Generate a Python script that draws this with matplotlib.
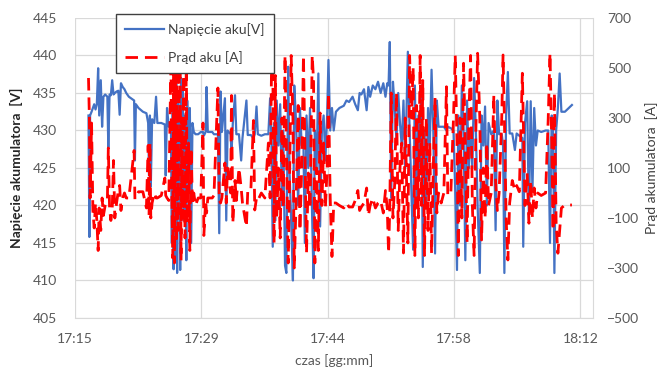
import matplotlib
matplotlib.use("Agg")
import matplotlib.pyplot as plt

# ---------------- data (minutes after 17:15) ----------------
time_min = [
    1.90, 2.00, 2.08, 2.25, 2.40, 2.55, 2.70, 2.85, 3.00, 3.12, 3.30, 3.45, 3.60, 3.80, 4.05, 4.16,
    4.30, 4.45, 4.60, 4.75, 4.90, 5.10, 5.30, 5.45, 5.60, 5.80, 6.00, 6.20, 6.50, 7.10, 7.19, 7.30,
    7.60, 8.10, 8.50, 8.70, 8.80, 8.90, 9.00, 9.15, 9.40, 9.60, 9.75, 10.20, 10.60, 10.70, 10.85, 11.05,
    11.30, 11.40, 11.50, 11.60, 11.70, 11.80, 11.90, 12.00, 12.10, 12.25, 12.35, 12.45, 12.55, 12.65,
    12.75, 12.90, 13.05, 13.15, 13.30, 13.45, 13.60, 13.75, 13.90, 14.10, 14.40,
    14.70, 14.95, 15.05, 15.25, 15.36, 15.50, 16.00, 16.20, 16.65, 16.80, 16.95, 17.10, 17.45, 17.60,
    17.75, 18.10, 18.20, 18.35, 18.60, 18.75, 19.05, 19.30, 19.45, 19.90, 20.05, 20.40, 20.70, 20.85,
    21.05, 21.20, 21.60, 22.00, 22.40, 22.60,
    22.75, 22.90, 23.05, 23.20, 23.35, 23.55, 23.75, 23.95, 24.10, 24.30, 24.45, 24.66, 24.80, 25.00,
    25.20, 25.35, 25.55, 25.80, 26.00, 26.20, 26.40, 26.56, 26.75, 26.95, 27.15, 27.40, 27.55, 27.70,
    27.90, 28.10, 28.30, 28.50, 28.70, 28.90, 29.10, 29.25, 29.45, 29.65, 29.85, 30.10,
    30.50, 31.00, 31.30, 31.60, 32.00, 32.30, 32.60, 32.80, 33.00, 33.30, 33.60, 33.80, 34.00, 34.30,
    34.60, 34.90, 35.20, 35.50, 35.75, 35.95,
    36.10, 36.24, 36.40, 36.60, 36.80, 37.00, 37.20, 37.40, 37.60, 37.80, 38.00, 38.30, 38.50, 38.70,
    38.90, 39.10, 39.30, 39.50, 39.70, 39.85, 40.00, 40.20, 40.40, 40.60, 40.80, 41.00, 41.20, 41.40,
    41.60, 41.80, 42.10, 42.40, 42.70, 42.85, 43.20,
    43.50, 43.70, 43.90, 44.05, 44.25, 44.45, 44.65, 44.85, 45.05, 45.25, 45.45, 45.65, 45.85, 46.05,
    46.25, 46.50, 46.70, 46.90, 47.10, 47.30, 47.50, 47.80, 48.10, 48.30, 48.50, 48.70, 49.00, 49.15,
    49.30, 49.50, 49.70, 49.90,
    50.20, 50.50, 50.70, 51.00, 51.35, 51.45, 51.65, 51.90, 52.10, 52.30, 52.50, 52.70, 52.90, 53.10,
    53.50, 54.00, 54.30, 54.50, 54.70, 54.85, 55.00, 55.20, 55.40, 55.60, 55.80, 56.20, 57.00,
]

voltage_v = [
    432.0, 415.8, 432.0, 432.5, 433.0, 433.5, 432.8, 433.5, 438.3, 432.0, 436.7, 430.5, 434.5, 434.8, 434.5, 427.7,
    434.8, 434.7, 436.7, 434.8, 435.0, 435.2, 435.3, 432.1, 436.3, 435.8, 435.5, 435.0, 434.5, 434.0, 426.0, 433.5,
    433.0, 432.5, 432.3, 431.0, 424.0, 432.0, 422.5, 431.5, 431.0, 434.5, 431.0, 431.0, 430.8, 424.0, 433.0, 430.5,
    430.5, 415.0, 433.0, 411.5, 436.0, 413.0, 437.5, 411.0, 435.0, 430.0, 411.4, 437.0, 420.0, 436.0,
    418.0, 432.0, 412.7, 434.0, 425.0, 433.0, 415.0, 431.0, 429.8, 429.5, 429.5,
    429.8, 429.8, 429.3, 429.8, 435.8, 429.8, 429.8, 429.5, 429.5, 416.3, 435.2, 429.8, 434.3, 418.0,
    430.0, 429.5, 427.0, 431.0, 434.7, 429.5, 429.5, 426.0, 429.0, 434.0, 429.4, 429.4, 429.0, 429.5,
    433.2, 429.5, 429.3, 429.5, 429.5, 434.3,
    429.0, 414.5, 431.0, 418.0, 434.0, 428.0, 433.5, 420.0, 430.0, 412.0, 411.0, 438.5, 425.0, 418.0,
    410.0, 436.0, 431.4, 420.0, 433.0, 428.0, 428.0, 415.0, 432.0, 425.0, 433.0, 418.0, 410.3, 430.0,
    425.0, 437.6, 417.2, 430.0, 432.0, 426.0, 432.0, 439.4, 430.0, 433.0, 430.0, 432.5,
    433.0, 433.3, 434.0, 433.8, 434.5, 433.5, 432.7, 435.0, 434.8, 435.5, 432.7, 435.8, 434.5, 436.0,
    435.5, 436.5, 435.0, 436.3, 434.5, 436.3,
    436.0, 441.8, 421.0, 436.5, 433.0, 428.7, 435.0, 431.0, 428.0, 434.0, 425.0, 440.5, 430.0, 422.0,
    414.1, 436.0, 420.0, 432.0, 425.0, 436.0, 411.8, 430.0, 420.0, 433.0, 428.0, 438.1, 430.0, 413.6,
    434.0, 430.5, 430.5, 430.5, 430.0, 430.5, 430.3,
    430.0, 422.0, 411.4, 432.0, 420.0, 436.0, 430.0, 412.7, 434.0, 425.0, 430.0, 425.0, 437.0, 430.0,
    420.0, 411.0, 432.0, 428.0, 433.2, 420.0, 431.0, 429.5, 430.0, 416.7, 434.0, 429.5, 429.5, 428.0,
    411.0, 432.0, 437.8, 429.6,
    429.6, 427.4, 429.6, 429.3, 429.0, 414.5, 431.0, 433.9, 418.0, 433.9, 422.0, 433.0, 428.0, 430.0,
    429.8, 430.0, 430.0, 415.0, 432.0, 430.0, 411.0, 430.0, 433.0, 437.6, 432.5, 432.5, 433.4,
]

current_a = [
    460, 300, -20, 280, -70, -140, -40, -110, -230, -60, -150, -20, -90, -50, -30, 180,
    -60, -110, -70, 130, -100, -40, 10, 30, -70, -20, 0, -20, -20, 170, -25, -20,
    5, 5, -60, 190, -90, 200, -100, -40, 0, -20, -20, -10, 60, -10, -20, -30,
    540, -20, -260, 550, -280, 520, -200, 550, -150, 480, 550, -270, 300, -100,
    550, -180, 540, -120, 200, -230, 180, -40, 0, -50, -20,
    -20, 280, -170, -30, -80, -20, -20, -10, 420, -30, -40, -20, 120, -40,
    100, 0, 390, -120, 50, -30, 100, 20, -40, -135, 6, 6, 290, -68,
    -20, -30, 0, -20, 200, -20,
    470, 540, -200, 470, -100, 100, -180, 300, -60, 550, 200, -280, 0, 550,
    300, -300, -50, 350, -150, 100, 550, 200, -240, 80, -60, 550, 450, -280,
    100, -230, 320, -50, 200, -60, 100, 400, -20, -254, -40, -40,
    -50, -60, -40, -56, -56, -30, 10, -70, -56, -40, 20, -90, -50, -20,
    -60, -40, -30, -80, 10, -60,
    -240, -60, 400, -100, 40, 400, -150, 100, 200, -240, 300, -200, 550, 300,
    500, -250, 350, -100, 550, -50, 450, -250, 300, -150, 200, -241, 100, 380,
    -80, 0, -40, 0, 425, -10, 0,
    300, 550, 200, -250, 300, -100, 519, 200, -200, 300, 550, -50, -250, 250,
    559, 300, -188, 100, -100, 200, -50, 0, 392, 50, -70, 0, 300, 552,
    300, -100, -268, -40,
    50, 10, 30, 5, 479, 300, -50, 79, -121, 50, -100, 20, -60, 0,
    -10, 0, 300, 559, 200, -150, 400, -121, -241, -150, -60, -48, -48,
]

# axis definitions (Excel day fractions for the time axis)
x_tick_days = [0.719, 0.729, 0.739, 0.749, 0.759]
x_tick_labels = ["17:15", "17:29", "17:44", "17:58", "18:12"]
x_range_days = [0.719, 0.760]
v_ticks = [405, 410, 415, 420, 425, 430, 435, 440, 445]
i_ticks = [-500, -300, -100, 100, 300, 500, 700]

# ---------------- plotting ----------------
plt.rcParams['font.family'] = ['Lato', 'DejaVu Sans']

def day_to_min(d):
    return d * 1440 - 1035  # minutes after 17:15

fig = plt.figure(figsize=(6.63, 3.71), dpi=100)
ax = fig.add_axes([0.1131, 0.1429, 0.7813, 0.8086])
ax2 = ax.twinx()

grid_c = '#d9d9d9'
txt_c = '#595959'

line_v, = ax.plot(time_min, voltage_v, color='#4472C4', lw=1.6, label='Napięcie aku[V]', zorder=3)
line_i, = ax2.plot(time_min, current_a, color='#FF0000', lw=2.0, dashes=(4.5, 2.5),
                   label='Prąd aku [A]', zorder=3)

ax.set_xlim(day_to_min(x_range_days[0]), day_to_min(x_range_days[1]))
ax.set_xticks([day_to_min(d) for d in x_tick_days])
ax.set_xticklabels(x_tick_labels)
ax.set_ylim(v_ticks[0], v_ticks[-1])
ax.set_yticks(v_ticks)
ax2.set_ylim(i_ticks[0], i_ticks[-1])
ax2.set_yticks(i_ticks)

ax.grid(True, color=grid_c, lw=0.9)
ax.set_axisbelow(True)

for a in (ax, ax2):
    for s in a.spines.values():
        s.set_visible(False)
ax.spines['bottom'].set_visible(True)
ax.spines['bottom'].set_color(grid_c)
ax2.spines['right'].set_visible(True)
ax2.spines['right'].set_color(grid_c)

ax.tick_params(axis='both', length=0, labelsize=10, colors=txt_c)
ax.tick_params(axis='y', pad=13)
ax.tick_params(axis='x', pad=11)
ax2.tick_params(axis='y', length=0, labelsize=10, colors=txt_c, pad=10)

ax.set_ylabel('Napięcie akumulatora  [V]', fontsize=10, fontweight='bold', color='#262626', labelpad=7)
ax2.set_ylabel('Prąd akumulatora  [A]', fontsize=10, color='#404040', labelpad=4)
ax.set_xlabel('czas [gg:mm]', fontsize=10, color=txt_c, labelpad=6)

leg = ax2.legend(handles=[line_v, line_i], loc='upper left',
                 bbox_to_anchor=(0.165, 0.98), bbox_transform=fig.transFigure,
                 fontsize=10, frameon=True, fancybox=False, framealpha=1,
                 edgecolor='#404040', handlelength=2.8, handletextpad=0.3,
                 labelspacing=1.05, borderpad=0.65)
leg.get_frame().set_linewidth(1.0)
for t in leg.get_texts():
    t.set_color('#404040')

fig.savefig('out.png', dpi=100)
